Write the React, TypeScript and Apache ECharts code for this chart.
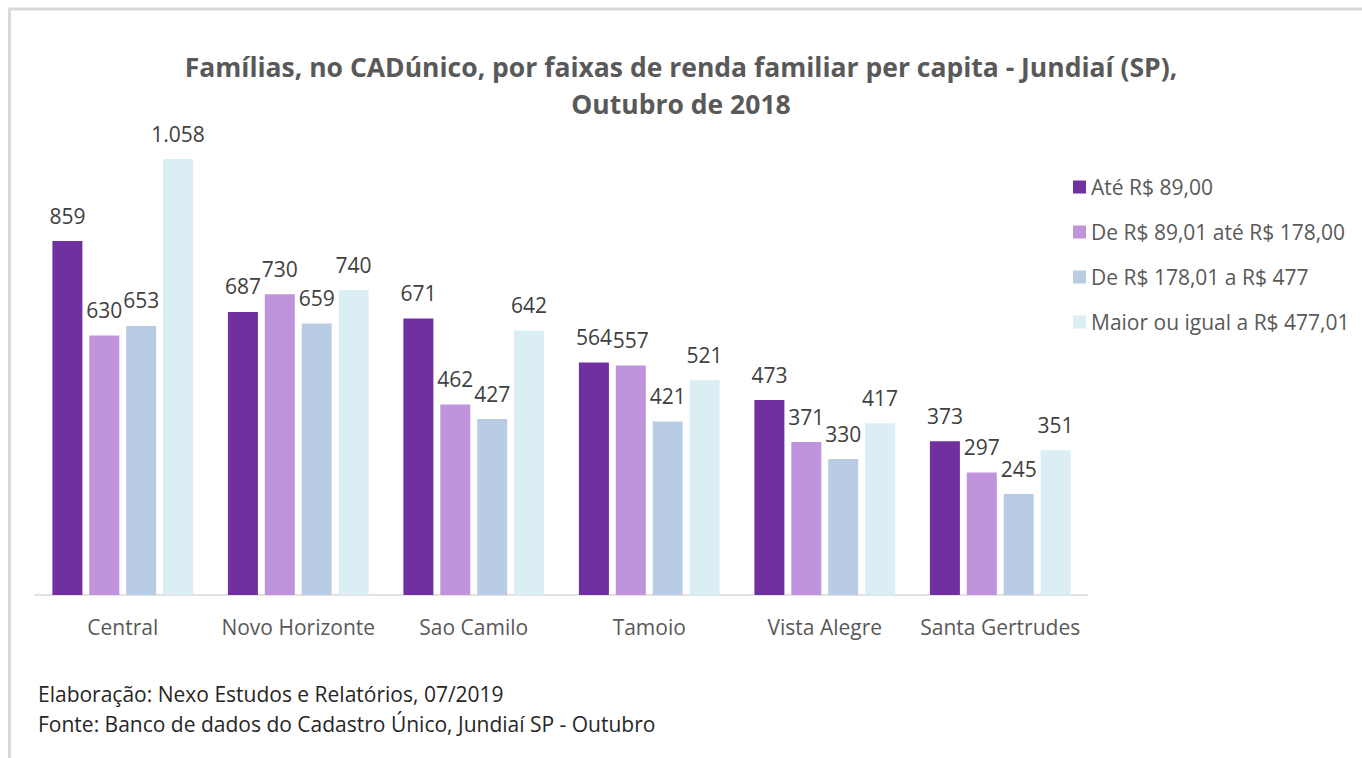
import React, { useEffect, useRef } from "react";
import * as echarts from "echarts";

const categories = ["Central", "Novo Horizonte", "Sao Camilo", "Tamoio", "Vista Alegre", "Santa Gertrudes"];
const seriesNames = [
  "Até R$ 89,00",
  "De R$ 89,01 até R$ 178,00",
  "De R$ 178,01 a R$ 477",
  "Maior ou igual a R$ 477,01",
];
const ate89 = [859, 687, 671, 564, 473, 373];
const de89a178 = [630, 730, 462, 557, 371, 297];
const de178a477 = [653, 659, 427, 421, 330, 245];
const maior477 = [1058, 740, 642, 521, 417, 351];
const seriesColors = ["#7030A0", "#BF94DD", "#B8CCE4", "#DAEEF3"];

const titleText = "Famílias, no CADúnico, por faixas de renda familiar per capita - Jundiaí (SP),\nOutubro de 2018";
const footer1 = "Elaboração: Nexo Estudos e Relatórios, 07/2019";
const footer2 = "Fonte: Banco de dados do Cadastro Único, Jundiaí SP - Outubro";

const FONT = "'Open Sans', 'Noto Sans', sans-serif";

function fmt(v: number): string {
  return v >= 1000 ? String(v).replace(/(\d)(?=(\d{3})+$)/g, "$1.") : String(v);
}

export default function App() {
  const ref = useRef<HTMLDivElement>(null);
  useEffect(() => {
    if (!ref.current) return;
    const chart = echarts.init(ref.current, undefined, { renderer: "svg" });
    const allData = [ate89, de89a178, de178a477, maior477];
    chart.setOption({
      animation: false,
      backgroundColor: "#ffffff",
      title: {
        text: titleText,
        left: "center",
        top: 43,
        textStyle: {
          fontFamily: FONT,
          fontWeight: "bold",
          fontSize: 26.5,
          color: "#595959",
          lineHeight: 37,
        },
      },
      legend: {
        orient: "vertical",
        left: 1068,
        top: 170,
        itemWidth: 13,
        itemHeight: 13,
        itemGap: 21,
        icon: "rect",
        textStyle: { fontFamily: FONT, fontSize: 21, color: "#595959", lineHeight: 24 },
        data: seriesNames,
      },
      grid: { left: 35, right: 274, top: 100.5, bottom: 163, containLabel: false },
      xAxis: {
        type: "category",
        data: categories,
        axisLine: { lineStyle: { color: "#D9D9D9", width: 1.5 } },
        axisTick: { show: false },
        axisLabel: {
          fontFamily: FONT,
          fontSize: 21,
          color: "#595959",
          margin: 21,
          interval: 0,
          hideOverlap: false,
        },
      },
      yAxis: {
        type: "value",
        min: 0,
        max: 1200,
        show: false,
        splitLine: { show: false },
      },
      series: seriesNames.map((name, i) => ({
        name,
        type: "bar",
        data: allData[i],
        barWidth: 30,
        barGap: "23%",
        itemStyle: { color: seriesColors[i] },
        label: {
          show: true,
          position: "top",
          distance: 15,
          fontFamily: FONT,
          fontSize: 21,
          color: "#404040",
          formatter: (p: any) => fmt(p.value),
        },
      })),
      graphic: [
        {
          type: "rect",
          shape: { x: 9.5, y: 9, width: 1400, height: 800 },
          style: { fill: "none", stroke: "#D9D9D9", lineWidth: 3 },
          silent: true,
        },
        {
          type: "text",
          x: 38,
          y: 694,
          style: { text: footer1, fontFamily: FONT, fontSize: 21, fill: "#262626", verticalAlign: "middle" },
        },
        {
          type: "text",
          x: 38,
          y: 724,
          style: { text: footer2, fontFamily: FONT, fontSize: 21, fill: "#262626", verticalAlign: "middle" },
        },
      ],
    });
    return () => chart.dispose();
  }, []);
  return (
    <div
      ref={ref}
      style={{ position: "fixed", left: 0, top: 0, width: 1362, height: 758 }}
    />
  );
}
